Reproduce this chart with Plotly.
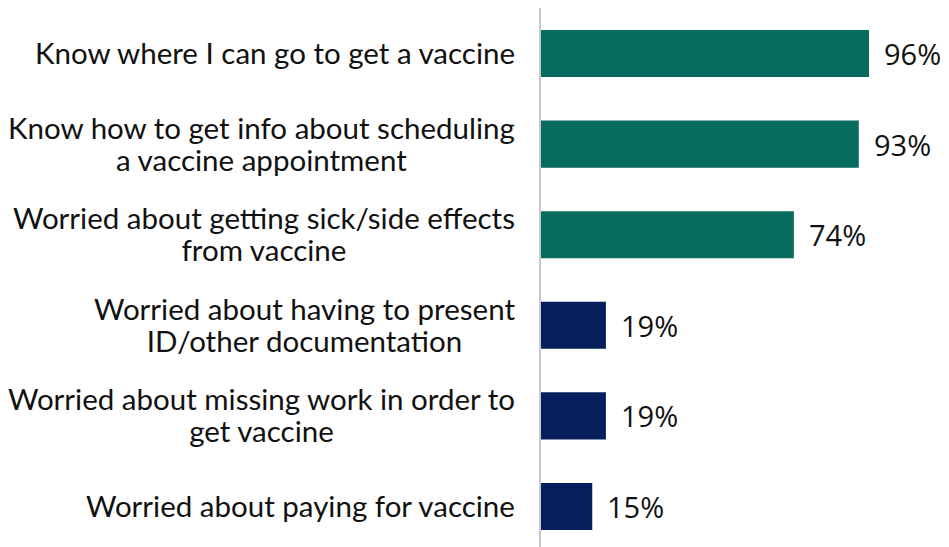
import plotly.graph_objects as go

categories = [
    "Know where I can go to get a vaccine",
    "Know how to get info about scheduling<br>a vaccine appointment",
    "Worried about getting sick/side effects<br>from vaccine",
    "Worried about having to present<br>ID/other documentation",
    "Worried about missing work in order to<br>get vaccine",
    "Worried about paying for vaccine",
]
values = [96, 93, 74, 19, 19, 15]
TEAL = "#076B5D"
NAVY = "#061F5C"
colors = [TEAL, TEAL, TEAL, NAVY, NAVY, NAVY]

ypos = list(range(len(categories)))

fig = go.Figure(
    go.Bar(
        x=values,
        y=ypos,
        orientation="h",
        width=0.52,
        marker=dict(color=colors, line=dict(width=0)),
        hoverinfo="skip",
    )
)

# category labels: right-aligned block, centred lines, tight line spacing
# (line spacing follows the outer font size, glyphs use the inner span size)
for yi, cat in zip(ypos, categories):
    lines = cat.split("<br>")
    txt = "<br>".join(f"<span style='font-size:29.5px'>{ln}</span>" for ln in lines)
    fig.add_annotation(
        x=0, y=yi, xref="paper", yref="y",
        text=txt, showarrow=False,
        xanchor="right", yanchor="middle", align="center",
        xshift=-24, yshift=1,
        font=dict(family="Lato", size=24.5, color="#111111"),
    )

# value labels just past each bar end
for yi, v in zip(ypos, values):
    fig.add_annotation(
        x=v, y=yi, xref="x", yref="y",
        text=f"{v}%", showarrow=False,
        xanchor="left", yanchor="middle",
        xshift=13,
        font=dict(family="Open Sans", size=29, color="#111111"),
    )

fig.update_layout(
    width=949, height=547,
    margin=dict(l=541, r=0, t=8, b=0),
    paper_bgcolor="white", plot_bgcolor="white",
    showlegend=False,
    xaxis=dict(range=[0, 119.4], visible=False, fixedrange=True),
    yaxis=dict(
        range=[5.447, -0.502],
        showticklabels=False, showgrid=False, zeroline=False,
        showline=True, linecolor="#C8C8C8", linewidth=2,
        fixedrange=True,
    ),
)

fig.write_html("out.html")
